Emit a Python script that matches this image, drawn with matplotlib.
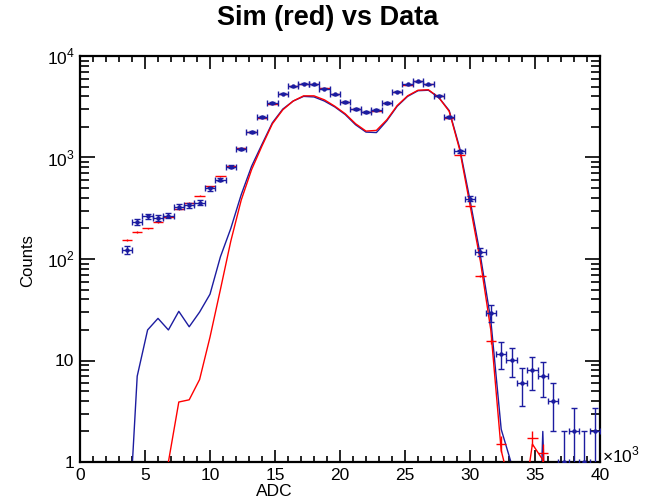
import numpy as np
import matplotlib
matplotlib.use("Agg")
import matplotlib.pyplot as plt
from matplotlib.ticker import FixedLocator, NullFormatter, FixedFormatter

plt.rcParams['font.family'] = ['Liberation Sans', 'DejaVu Sans']
plt.rcParams['mathtext.fontset'] = 'custom'
plt.rcParams['mathtext.rm'] = 'Liberation Sans'

# bin centres in units of 10^3 ADC (bin width 0.8)
centers = [3.6, 4.4, 5.2, 6.0, 6.8, 7.6, 8.4, 9.2, 10.0, 10.8, 11.6, 12.4, 13.2, 14.0,
           14.8, 15.6, 16.4, 17.2, 18.0, 18.8, 19.6, 20.4, 21.2, 22.0, 22.8, 23.6, 24.4,
           25.2, 26.0, 26.8, 27.6, 28.4, 29.2, 30.0, 30.8, 31.6, 32.4, 33.2, 34.0, 34.8,
           35.6, 36.4, 37.2, 38.0, 38.8, 39.6]
bin_half_width = 0.4

data_counts = [122, 231, 264, 255, 267, 327, 337, 360, 495, 607, 809, 1218, 1774, 2494,
               3427, 4270, 5035, 5350, 5240, 4750, 4180, 3540, 3020, 2820, 2950, 3460, 4440,
               5240, 5650, 5240, 4080, 2500, 1146, 394, 117, 29.5, 11.7, 10.1, 6.0, 8.0,
               7.0, 4.0, 1, 2, 1, 2]

sim_counts = [153, 185, 200, 231, 260, 310, 358, 422, 522, 654, 821, 1230, 1800, 2450,
              3400, 4250, 5050, 5300, 5250, 4800, 4200, 3550, 2990, 2780, 2900, 3450, 4400,
              5200, 5700, 5250, 4000, 2450, 1054, 331, 68, 15.5, 1.52, 0, 0, 1.73,
              1.24, 0, 0, 0, 0, 0]
sim_scale = 0.05  # weight of one simulated event

data_line = [0.1, 7, 20, 26, 20, 30.5, 21.5, 30, 45, 105, 200, 430, 820, 1350,
             2200, 3000, 3600, 4000, 3950, 3600, 3150, 2650, 2100, 1780, 1760, 2300, 3200,
             4000, 4550, 4600, 3900, 2900, 1250, 380, 108, 25, 2.1, 0.95, 0.001, 0.001,
             2.0, 0.001, 0.001, 0.001, 0.001, 0.001]

sim_line = [0.001, 0.001, 0.001, 0.01, 1.0, 3.9, 4.1, 6.5, 17, 50, 150, 380, 760, 1300,
            2150, 2950, 3600, 4050, 4050, 3700, 3200, 2700, 2150, 1820, 1850, 2350, 3250,
            4050, 4600, 4650, 3900, 2850, 1200, 340, 95, 20, 1.3, 0.5, 0.3, 1.5,
            1.05, 0.1, 0.001, 0.001, 0.001, 0.001]

blue = '#1c1ca0'
red = '#ff0000'

x = np.array(centers)
d = np.array(data_counts, float)
s = np.array(sim_counts, float)

fig = plt.figure(figsize=(6.52, 5.04), dpi=100)
ax = fig.add_axes([80/652, 1-462/504, 520/652, 406/504])
ax.set_yscale('log')

# lines
ax.plot(x, data_line, color=blue, lw=1.0, zorder=2)
ax.plot(x, sim_line, color=red, lw=1.0, zorder=3)

# sim points
m = s > 0
serr = np.sqrt(s[m] * sim_scale)
ax.errorbar(x[m], s[m], xerr=bin_half_width,
            yerr=[np.minimum(serr, s[m]*0.999), serr],
            fmt='none', ecolor=red, elinewidth=1.0, capsize=0, zorder=4)

# data points
derr = np.sqrt(d)
ax.errorbar(x, d, xerr=bin_half_width,
            yerr=[np.minimum(derr, d*0.999), derr],
            fmt='o', ms=2.2, color=blue, ecolor=blue, elinewidth=1.0,
            capsize=2.2, capthick=1.0, zorder=5)

ax.set_xlim(0, 40)
ax.set_ylim(1, 1e4)

for sp in ax.spines.values():
    sp.set_linewidth(1.6)

ax.xaxis.set_major_locator(FixedLocator(np.arange(0, 41, 5)))
ax.xaxis.set_minor_locator(FixedLocator(np.arange(0, 41, 1)))
ax.set_xticklabels([str(v) for v in range(0, 41, 5)])
ax.yaxis.set_major_locator(FixedLocator([1, 10, 100, 1000, 10000]))
ax.yaxis.set_major_formatter(FixedFormatter(['1', '10', r'$10^{2}$', r'$10^{3}$', r'$10^{4}$']))
minors = [k * 10**e for e in range(0, 4) for k in range(2, 10)]
ax.yaxis.set_minor_locator(FixedLocator(minors))
ax.yaxis.set_minor_formatter(NullFormatter())

ax.tick_params(axis='both', which='both', direction='in', top=True, right=True,
               width=1.2, labelsize=12.5)
ax.tick_params(axis='x', which='major', length=9, pad=4)
ax.tick_params(axis='x', which='minor', length=4.5)
ax.tick_params(axis='y', which='major', length=11, pad=4)
ax.tick_params(axis='y', which='minor', length=6.5)

fig.text(328/652, 1-18/504, 'Sim (red) vs Data', ha='center', va='center',
         fontsize=19.5, fontweight='bold')
fig.text(274/652, 1-492/504, 'ADC', ha='center', va='center', fontsize=12.5)
fig.text(28/652, 1-261/504, 'Counts', ha='center', va='center', fontsize=12, rotation=90)
fig.text(602/652, 1-455/504, r'$\times10^{3}$', ha='left', va='center', fontsize=12.5)

fig.savefig('out.png', dpi=100)
